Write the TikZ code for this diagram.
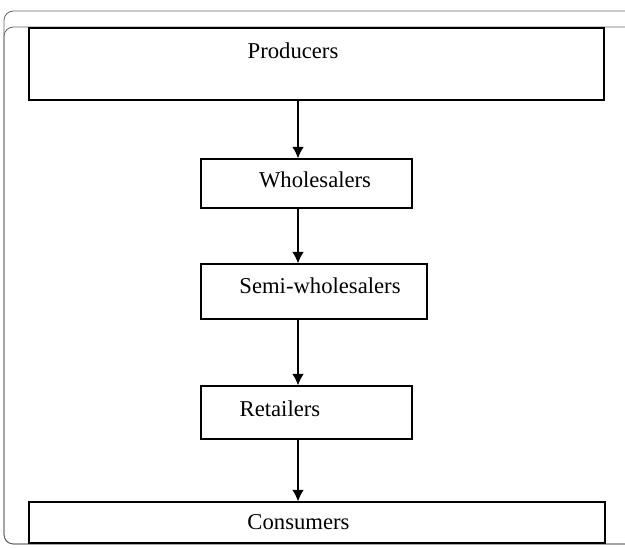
\documentclass[tikz,border=0pt]{standalone}
\usepackage{fontspec}
\setmainfont{Liberation Serif}
\usetikzlibrary{arrows.meta,positioning}
\tikzstyle{block} = [rectangle, draw, line width=1pt, inner sep=0pt]
\tikzstyle{line} = [draw, line width=0.8pt, -{Latex[length=8.5pt,width=8.5pt]}]
\tikzstyle{frame} = [draw=black!60, line width=0.6pt, rounded corners=7pt]

\begin{document}
\begin{tikzpicture}[x=0.75pt, y=-0.75pt, font=\fontsize{17}{20}\selectfont]
    \useasboundingbox (0,0) rectangle (625,548);
    \clip (0,0) rectangle (625,548);
    % Frames
    \draw [frame] (4,11) rectangle (634,544);
    \draw [frame] (4,27) rectangle (634,544);
    % Place nodes
    \node [block, minimum width=431.25pt, minimum height=54pt,
        label={[xshift=-17.6pt, yshift=9.75pt]center:Producers}] (prod) at (316.5,64) {};
    \node [block, minimum width=158.25pt, minimum height=36.75pt,
        label={[xshift=6.4pt, yshift=2.6pt]center:Wholesalers}] (whole) at (306.5,183.5) {};
    \node [block, minimum width=169.5pt, minimum height=41.25pt,
        label={[xshift=4.5pt, yshift=4.1pt]center:Semi-wholesalers}] (semi) at (314,291.5) {};
    \node [block, minimum width=158.25pt, minimum height=39.75pt,
        label={[xshift=-19.9pt, yshift=2.6pt]center:Retailers}] (retail) at (306.5,412.5) {};
    \node [block, minimum width=432pt, minimum height=30.75pt,
        label={[xshift=-13.9pt]center:Consumers}] (cons) at (317,522.5) {};
    \coordinate (axis) at (298,0);
    % Draw edges
    \path [line] (prod.south -| axis) -- (whole.north -| axis);
    \path [line] (whole.south -| axis) -- (semi.north -| axis);
    \path [line] (semi.south -| axis) -- (retail.north -| axis);
    \path [line] (retail.south -| axis) -- (cons.north -| axis);
\end{tikzpicture}
\end{document}
